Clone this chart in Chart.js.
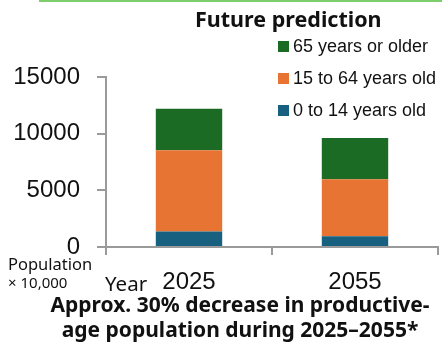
<!DOCTYPE html>
<html>
<head>
<meta charset="utf-8">
<script src="https://cdn.jsdelivr.net/npm/chart.js@4/dist/chart.umd.min.js"></script>
<style>
  body { margin: 0; background: #fff; }
  #wrap { position: relative; width: 442px; height: 346px; overflow: hidden; }
  #topline { position: absolute; left: 39px; top: 0; width: 403px; height: 2px; background: #7dcd6a; }
  .txt { position: absolute; white-space: nowrap; color: #111; }
  #title { left: 195px; top: 4px; font: bold 21.5px "Noto Sans", sans-serif; }
  #legend { position: absolute; left: 278px; top: 30px; }
  .item { height: 32px; display: flex; align-items: center; font: 18px "Liberation Sans", Arial, sans-serif; color: #111; }
  .box { width: 11px; height: 11px; margin-right: 4px; }
  #pop { left: 8px; top: 252px; font: 16.5px "Noto Sans", sans-serif; }
  #unit { left: 8px; top: 272px; font: 15px "Noto Sans", sans-serif; }
  #year { left: 105px; top: 269px; font: 20.5px "Noto Sans", sans-serif; }
  #caption { left: 0; width: 480px; top: 292px; text-align: center; font: bold 21px "Noto Sans", sans-serif; line-height: 25px; }
</style>
</head>
<body>
<div id="wrap">
  <canvas id="myChart" width="442" height="346"></canvas>
  <div id="topline"></div>
  <div class="txt" id="title">Future prediction</div>
  <div id="legend"></div>
  <div class="txt" id="pop">Population</div>
  <div class="txt" id="unit">× 10,000</div>
  <div class="txt" id="year">Year</div>
  <div class="txt" id="caption">Approx. 30% decrease in productive-<br>age population during 2025–2055*</div>
</div>
<script>
// valores (x 10.000 pessoas)
const anos = ['2025', '2055'];
const faixas = ['0 to 14 years old', '15 to 64 years old', '65 years or older'];
const cores = ['#17607f', '#e87434', '#1b6b24'];
const jovens = [1360, 950];
const ativos = [7170, 5030];
const idosos = [3670, 3630];
const ticksY = [0, 5000, 10000, 15000];

const series = [jovens, ativos, idosos];

// legenda em html (ordem invertida, igual ao original)
const legend = document.getElementById('legend');
for (let i = faixas.length - 1; i >= 0; i--) {
  const div = document.createElement('div');
  div.className = 'item';
  div.innerHTML = '<span class="box" style="background:' + cores[i] + '"></span>' + faixas[i];
  legend.appendChild(div);
}

const cinza = '#9a9a9a';
const ctx = document.getElementById('myChart');
new Chart(ctx, {
  type: 'bar',
  data: {
    labels: anos,
    datasets: series.map((d, i) => ({
      label: faixas[i],
      data: d,
      backgroundColor: cores[i],
      borderWidth: 0,
      barPercentage: 0.4,
      categoryPercentage: 1
    }))
  },
  options: {
    responsive: false,
    animation: false,
    layout: { padding: { left: 0, top: 77, right: 4, bottom: 49 } },
    plugins: { legend: { display: false }, tooltip: { enabled: false } },
    scales: {
      x: {
        stacked: true,
        border: { color: cinza, width: 2 },
        grid: { drawOnChartArea: false, tickLength: 8, color: cinza, lineWidth: 2 },
        ticks: { color: '#111', padding: 13, font: { family: 'Liberation Sans', size: 24 } },
        afterFit: s => { s.height = 50; }
      },
      y: {
        stacked: true,
        min: 0,
        max: 15000,
        afterBuildTicks: s => { s.ticks = ticksY.map(v => ({ value: v })); },
        border: { color: cinza, width: 2 },
        grid: { drawOnChartArea: false, tickLength: 9, color: cinza, lineWidth: 2 },
        ticks: {
          color: '#111', padding: 17,
          font: { family: 'Liberation Sans', size: 24 },
          callback: v => String(v)
        },
        afterFit: s => { s.width = 106; }
      }
    }
  }
});
</script>
</body>
</html>
